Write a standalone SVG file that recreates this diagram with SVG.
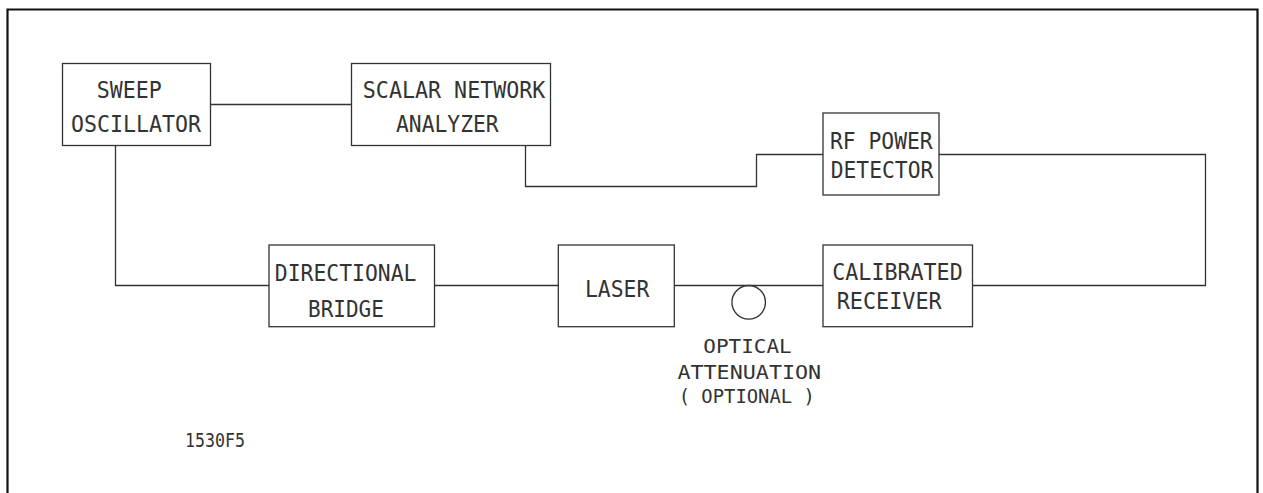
<svg xmlns="http://www.w3.org/2000/svg" width="1263" height="493" viewBox="0 0 1263 493">
<style>
.box{fill:#fff;stroke:#333;stroke-width:1.3}
.ln{fill:none;stroke:#333;stroke-width:1.3}
.t{font-family:"DejaVu Sans Mono","Liberation Mono",monospace;font-size:23px;fill:#333}
.a{font-family:"DejaVu Sans Mono","Liberation Mono",monospace;font-size:19.5px;fill:#333}
.s{font-family:"DejaVu Sans Mono","Liberation Mono",monospace;font-size:19px;fill:#333}
</style>
<rect width="1263" height="493" fill="#fff"/>
<path d="M7.5,493 V9.5 H1257.5 V493" fill="none" stroke="#111" stroke-width="2.2"/>
<g id="connectors">
<path class="ln" d="M211,104.5 H351.5"/>
<path class="ln" d="M115.5,146 V285.5 H269"/>
<path class="ln" d="M434.5,285.5 H558.3"/>
<path class="ln" d="M674.5,285.5 H823"/>
<path class="ln" d="M525.5,146 V186.5 H756.5 V154.5 H823"/>
<path class="ln" d="M939,154.5 H1205.5 V285.5 H972.5"/>
</g>
<g id="sweep">
<rect class="box" x="62.5" y="63.5" width="148" height="82"/>
<text class="t" x="96.7" y="98" textLength="65" lengthAdjust="spacingAndGlyphs">SWEEP</text>
<text class="t" x="71" y="132" textLength="130" lengthAdjust="spacingAndGlyphs">OSCILLATOR</text>
</g>
<g id="scalar">
<rect class="box" x="351.5" y="63.5" width="199" height="82"/>
<text class="t" x="362.8" y="98.3" textLength="182.6" lengthAdjust="spacingAndGlyphs">SCALAR NETWORK</text>
<text class="t" x="396" y="132.3" textLength="102.7" lengthAdjust="spacingAndGlyphs">ANALYZER</text>
</g>
<g id="rfdetector">
<rect class="box" x="823" y="113" width="116" height="82"/>
<text class="t" x="830" y="149" textLength="102.7" lengthAdjust="spacingAndGlyphs">RF POWER</text>
<text class="t" x="830.7" y="178.3" textLength="102.6" lengthAdjust="spacingAndGlyphs">DETECTOR</text>
</g>
<g id="bridge">
<rect class="box" x="269" y="245" width="165.5" height="81.7"/>
<text class="t" x="274.8" y="280.7" textLength="141.6" lengthAdjust="spacingAndGlyphs">DIRECTIONAL</text>
<text class="t" x="308" y="317.3" textLength="75.9" lengthAdjust="spacingAndGlyphs">BRIDGE</text>
</g>
<g id="laser">
<rect class="box" x="558.3" y="245" width="116" height="81.7"/>
<text class="t" x="585" y="296.7" textLength="64.3" lengthAdjust="spacingAndGlyphs">LASER</text>
</g>
<g id="attenuator">
<circle class="ln" cx="748.7" cy="302.3" r="16.8"/>
<text class="a" x="703.3" y="353" textLength="88.4" lengthAdjust="spacingAndGlyphs">OPTICAL</text>
<text class="a" x="677.4" y="379" textLength="143.8" lengthAdjust="spacingAndGlyphs">ATTENUATION</text>
<text class="a" x="678.7" y="403.3" textLength="136.1" lengthAdjust="spacingAndGlyphs">( OPTIONAL )</text>
</g>
<g id="receiver">
<rect class="box" x="823" y="245" width="149.5" height="81.7"/>
<text class="t" x="832.3" y="280" textLength="130.4" lengthAdjust="spacingAndGlyphs">CALIBRATED</text>
<text class="t" x="836.7" y="309" textLength="105" lengthAdjust="spacingAndGlyphs">RECEIVER</text>
</g>
<g id="figlabel">
<text class="s" x="185" y="446.7" textLength="60" lengthAdjust="spacingAndGlyphs">1530F5</text>
</g>
</svg>
